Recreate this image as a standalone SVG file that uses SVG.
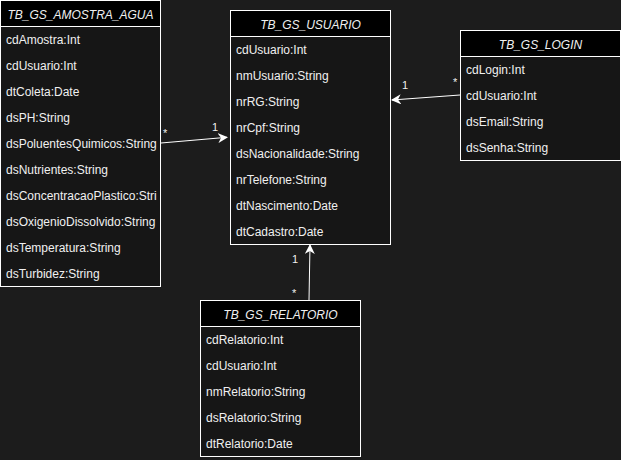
<svg xmlns="http://www.w3.org/2000/svg" width="621" height="460" viewBox="0 0 621 460">
<style>
.bg{fill:#1c1c1c}
.box{fill:#161616;stroke:#ffffff;stroke-width:1}
.hdr{fill:#000000;stroke:#ffffff;stroke-width:1}
.t{font-family:"Liberation Sans",Arial,Helvetica,sans-serif;font-size:12px;fill:#f0f0f0}
.h{font-family:"Liberation Sans",Arial,Helvetica,sans-serif;font-size:12px;font-style:italic;fill:#f0f0f0;text-anchor:middle}
.lbl{font-family:"Liberation Sans",Arial,Helvetica,sans-serif;font-size:11px;fill:#f0f0f0}
.edge{stroke:#ffffff;stroke-width:1;fill:none;marker-end:url(#arr)}
</style>
<defs>
<marker id="arr" viewBox="0 0 10 10" refX="9" refY="5" markerWidth="10" markerHeight="10" markerUnits="userSpaceOnUse" orient="auto">
<path d="M0,0 L10,5 L0,10 L3,5 Z" fill="#ffffff"/>
</marker>
<clipPath id="clipA"><rect x="0" y="0" width="157" height="286"/></clipPath>
</defs>
<rect class="bg" x="0" y="0" width="621" height="460"/>

<g id="connectors">
<line class="edge" x1="161" y1="143" x2="227" y2="137.3"/>
<text class="lbl" x="163" y="137">*</text>
<text class="lbl" x="212" y="131">1</text>
<line class="edge" x1="460" y1="95" x2="392" y2="100"/>
<text class="lbl" x="402" y="89">1</text>
<text class="lbl" x="453" y="86">*</text>
<line class="edge" x1="309" y1="300" x2="310" y2="245"/>
<text class="lbl" x="292" y="263">1</text>
<text class="lbl" x="292" y="297">*</text>
</g>

<g id="TB_GS_AMOSTRA_AGUA">
<rect class="box" x="0.5" y="0.5" width="160" height="286"/>
<rect class="hdr" x="0.5" y="0.5" width="160" height="26"/>
<text class="h" x="80.5" y="19">TB_GS_AMOSTRA_AGUA</text>
<g clip-path="url(#clipA)">
<text class="t" x="6" y="44">cdAmostra:Int</text>
<text class="t" x="6" y="70">cdUsuario:Int</text>
<text class="t" x="6" y="96">dtColeta:Date</text>
<text class="t" x="6" y="122">dsPH:String</text>
<text class="t" x="6" y="148">dsPoluentesQuimicos:String</text>
<text class="t" x="6" y="174">dsNutrientes:String</text>
<text class="t" x="6" y="200">dsConcentracaoPlastico:String</text>
<text class="t" x="6" y="226">dsOxigenioDissolvido:String</text>
<text class="t" x="6" y="252">dsTemperatura:String</text>
<text class="t" x="6" y="278">dsTurbidez:String</text>
</g>
</g>

<g id="TB_GS_USUARIO">
<rect class="box" x="230.5" y="10.5" width="160" height="234"/>
<rect class="hdr" x="230.5" y="10.5" width="160" height="26"/>
<text class="h" x="310.5" y="29">TB_GS_USUARIO</text>
<text class="t" x="236" y="54">cdUsuario:Int</text>
<text class="t" x="236" y="80">nmUsuario:String</text>
<text class="t" x="236" y="106">nrRG:String</text>
<text class="t" x="236" y="132">nrCpf:String</text>
<text class="t" x="236" y="158">dsNacionalidade:String</text>
<text class="t" x="236" y="184">nrTelefone:String</text>
<text class="t" x="236" y="210">dtNascimento:Date</text>
<text class="t" x="236" y="236">dtCadastro:Date</text>
</g>

<g id="TB_GS_LOGIN">
<rect class="box" x="460.5" y="30.5" width="160" height="130"/>
<rect class="hdr" x="460.5" y="30.5" width="160" height="26"/>
<text class="h" x="540.5" y="49">TB_GS_LOGIN</text>
<text class="t" x="466" y="74">cdLogin:Int</text>
<text class="t" x="466" y="100">cdUsuario:Int</text>
<text class="t" x="466" y="126">dsEmail:String</text>
<text class="t" x="466" y="152">dsSenha:String</text>
</g>

<g id="TB_GS_RELATORIO">
<rect class="box" x="200.5" y="300.5" width="160" height="156"/>
<rect class="hdr" x="200.5" y="300.5" width="160" height="26"/>
<text class="h" x="280.5" y="319">TB_GS_RELATORIO</text>
<text class="t" x="206" y="344">cdRelatorio:Int</text>
<text class="t" x="206" y="370">cdUsuario:Int</text>
<text class="t" x="206" y="396">nmRelatorio:String</text>
<text class="t" x="206" y="422">dsRelatorio:String</text>
<text class="t" x="206" y="448">dtRelatorio:Date</text>
</g>
</svg>
